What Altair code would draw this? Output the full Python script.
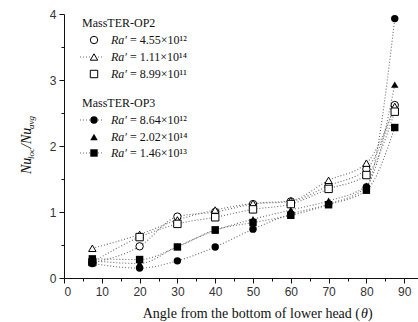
import altair as alt
import pandas as pd

# Angle from the bottom of the lower head (degrees)
theta = [7.5, 20, 30, 40, 50, 60, 70, 80, 87.5]

# Local / average Nusselt number ratio, MassTER-OP2
op2_ra_455e12 = [0.23, 0.48, 0.93, 1.00, 1.12, 1.16, 1.40, 1.65, 2.62]
op2_ra_111e14 = [0.45, 0.66, 0.88, 1.03, 1.13, 1.17, 1.48, 1.74, 2.60]
op2_ra_899e11 = [0.24, 0.62, 0.82, 0.92, 1.04, 1.12, 1.35, 1.56, 2.52]

# Local / average Nusselt number ratio, MassTER-OP3
op3_ra_864e12 = [0.22, 0.15, 0.26, 0.47, 0.74, 0.97, 1.12, 1.38, 3.93]
op3_ra_202e14 = [0.26, 0.22, 0.48, 0.72, 0.89, 1.03, 1.17, 1.40, 2.93]
op3_ra_146e13 = [0.29, 0.28, 0.47, 0.73, 0.84, 0.95, 1.11, 1.33, 2.28]

series_values = [op2_ra_455e12, op2_ra_111e14, op2_ra_899e11,
                 op3_ra_864e12, op3_ra_202e14, op3_ra_146e13]
series_labels = ["= 4.55×10¹²", "= 1.11×10¹⁴", "= 8.99×10¹¹",
                 "= 8.64×10¹²", "= 2.02×10¹⁴", "= 1.46×10¹³"]
group_names = ["MassTER-OP2", "MassTER-OP3"]
shapes = ["circle", "triangle-up", "square"] * 2
filled = [False, False, False, True, True, True]

x_ticks = [0, 10, 20, 30, 40, 50, 60, 70, 80, 90]
x_minor = [5, 15, 25, 35, 45, 55, 65, 75, 85]
y_ticks = [0, 1, 2, 3, 4]
y_minor = [0.5, 1.5, 2.5, 3.5]

rows = []
for i, vals in enumerate(series_values):
    for t, v in zip(theta, vals):
        rows.append({"theta": t, "ratio": v, "series": i,
                     "shape": shapes[i], "filled": filled[i]})
df = pd.DataFrame(rows)

SERIF = "Liberation Serif"
SANS = "Liberation Sans"
W, H = 354, 264
x_scale = alt.Scale(domain=[0, 93.65], nice=False)
y_scale = alt.Scale(domain=[0, 4], nice=False)

base = alt.Chart(df)

lines = base.mark_line(interpolate="monotone", strokeDash=[1, 2],
                       strokeWidth=1.1, color="#6a6a6a").encode(
    x=alt.X("theta:Q", scale=x_scale,
            axis=alt.Axis(values=x_ticks, title=None, orient="bottom",
                          tickSize=5, labelPadding=3, format="d")),
    y=alt.Y("ratio:Q", scale=y_scale,
            axis=alt.Axis(values=y_ticks, title=None, orient="left",
                          tickSize=5, labelPadding=3, format="d")),
    detail="series:N",
)

minor_axes = base.mark_point(opacity=0).encode(
    x=alt.X("theta:Q", scale=x_scale,
            axis=alt.Axis(values=x_minor, labels=False, domain=False,
                          title=None, orient="bottom", tickSize=3)),
    y=alt.Y("ratio:Q", scale=y_scale,
            axis=alt.Axis(values=y_minor, labels=False, domain=False,
                          title=None, orient="left", tickSize=3)),
)

open_pts = base.transform_filter("!datum.filled").mark_point(
    filled=True, fill="white", stroke="black", strokeWidth=1, size=55, opacity=1
).encode(
    x=alt.X("theta:Q", scale=x_scale, axis=None),
    y=alt.Y("ratio:Q", scale=y_scale, axis=None),
    shape=alt.Shape("shape:N", scale=None),
)

solid_pts = base.transform_filter("datum.filled").mark_point(
    filled=True, color="black", size=55, opacity=1
).encode(
    x=alt.X("theta:Q", scale=x_scale, axis=None),
    y=alt.Y("ratio:Q", scale=y_scale, axis=None),
    shape=alt.Shape("shape:N", scale=None),
)

# Legend block drawn in pixel space inside the plot area
leg_rows = []
entry_y = [26, 43, 60, 106, 123, 139]
with_line = [False, True, False, True, False, True]
for i in range(6):
    leg_rows.append({"ly": entry_y[i], "label": series_labels[i],
                     "shape": shapes[i], "filled": filled[i],
                     "line": with_line[i]})
leg = pd.DataFrame(leg_rows)
heads = pd.DataFrame({"ly": [9, 89], "name": group_names})

leg_base = alt.Chart(leg)
leg_lines = leg_base.transform_filter("datum.line").mark_rule(
    strokeDash=[1, 2], color="#6a6a6a", strokeWidth=1.1
).encode(x=alt.value(16), x2=alt.value(40), y=alt.Y("ly:Q", scale=None))
leg_open = leg_base.transform_filter("!datum.filled").mark_point(
    filled=True, fill="white", stroke="black", strokeWidth=1, size=55, opacity=1
).encode(x=alt.value(30), y=alt.Y("ly:Q", scale=None),
         shape=alt.Shape("shape:N", scale=None))
leg_solid = leg_base.transform_filter("datum.filled").mark_point(
    filled=True, color="black", size=55, opacity=1
).encode(x=alt.value(30), y=alt.Y("ly:Q", scale=None),
         shape=alt.Shape("shape:N", scale=None))
leg_ra = leg_base.mark_text(
    text="Ra′", font=SERIF, fontStyle="italic", fontSize=12, align="left",
    baseline="middle", color="#111"
).encode(x=alt.value(47), y=alt.Y("ly:Q", scale=None))
leg_val = leg_base.mark_text(
    font=SERIF, fontSize=12, align="left", baseline="middle", color="#111"
).encode(x=alt.value(66), y=alt.Y("ly:Q", scale=None), text="label:N")
leg_heads = alt.Chart(heads).mark_text(
    font=SERIF, fontSize=12, align="left", baseline="middle", color="#111"
).encode(x=alt.value(18), y=alt.Y("ly:Q", scale=None), text="name:N")

# Axis titles
one = pd.DataFrame({"k": [0]})
xt_main = alt.Chart(one).mark_text(
    text="Angle from the bottom of lower head (", font=SERIF, fontSize=14,
    align="right", baseline="alphabetic", color="#111"
).encode(x=alt.value(296), y=alt.value(304))
xt_theta = alt.Chart(one).mark_text(
    text="θ", font=SERIF, fontSize=14, fontStyle="italic",
    align="left", baseline="alphabetic", color="#111"
).encode(x=alt.value(297), y=alt.value(304))
xt_close = alt.Chart(one).mark_text(
    text=")", font=SERIF, fontSize=14,
    align="left", baseline="alphabetic", color="#111"
).encode(x=alt.value(304), y=alt.value(304))

yt_parts = []
for txt, size, yy, xx in [("Nu", 14, 160, -33), ("loc", 9, 145, -30),
                          ("/Nu", 14, 134, -33), ("avg", 9, 115, -30)]:
    yt_parts.append(alt.Chart(one).mark_text(
        text=txt, font=SERIF, fontSize=size, fontStyle="italic", angle=270,
        align="left", baseline="alphabetic", color="#111"
    ).encode(x=alt.value(xx), y=alt.value(yy)))

chart = alt.layer(
    lines, minor_axes, open_pts, solid_pts,
    leg_lines, leg_open, leg_solid, leg_ra, leg_val, leg_heads,
    xt_main, xt_theta, xt_close, *yt_parts
).resolve_axis(x="independent", y="independent").properties(
    width=W, height=H,
    padding={"left": 64, "top": 14, "right": 0, "bottom": 44},
    autosize=alt.AutoSizeParams(type="none"),
    background="white",
).configure_view(stroke=None).configure_axis(
    grid=False, domainColor="#111", tickColor="#111", domainWidth=1,
    tickWidth=1, labelFont=SANS, labelFontSize=12, labelColor="#333",
)

chart.save("out.html", embed_options={"renderer": "svg", "actions": False})
